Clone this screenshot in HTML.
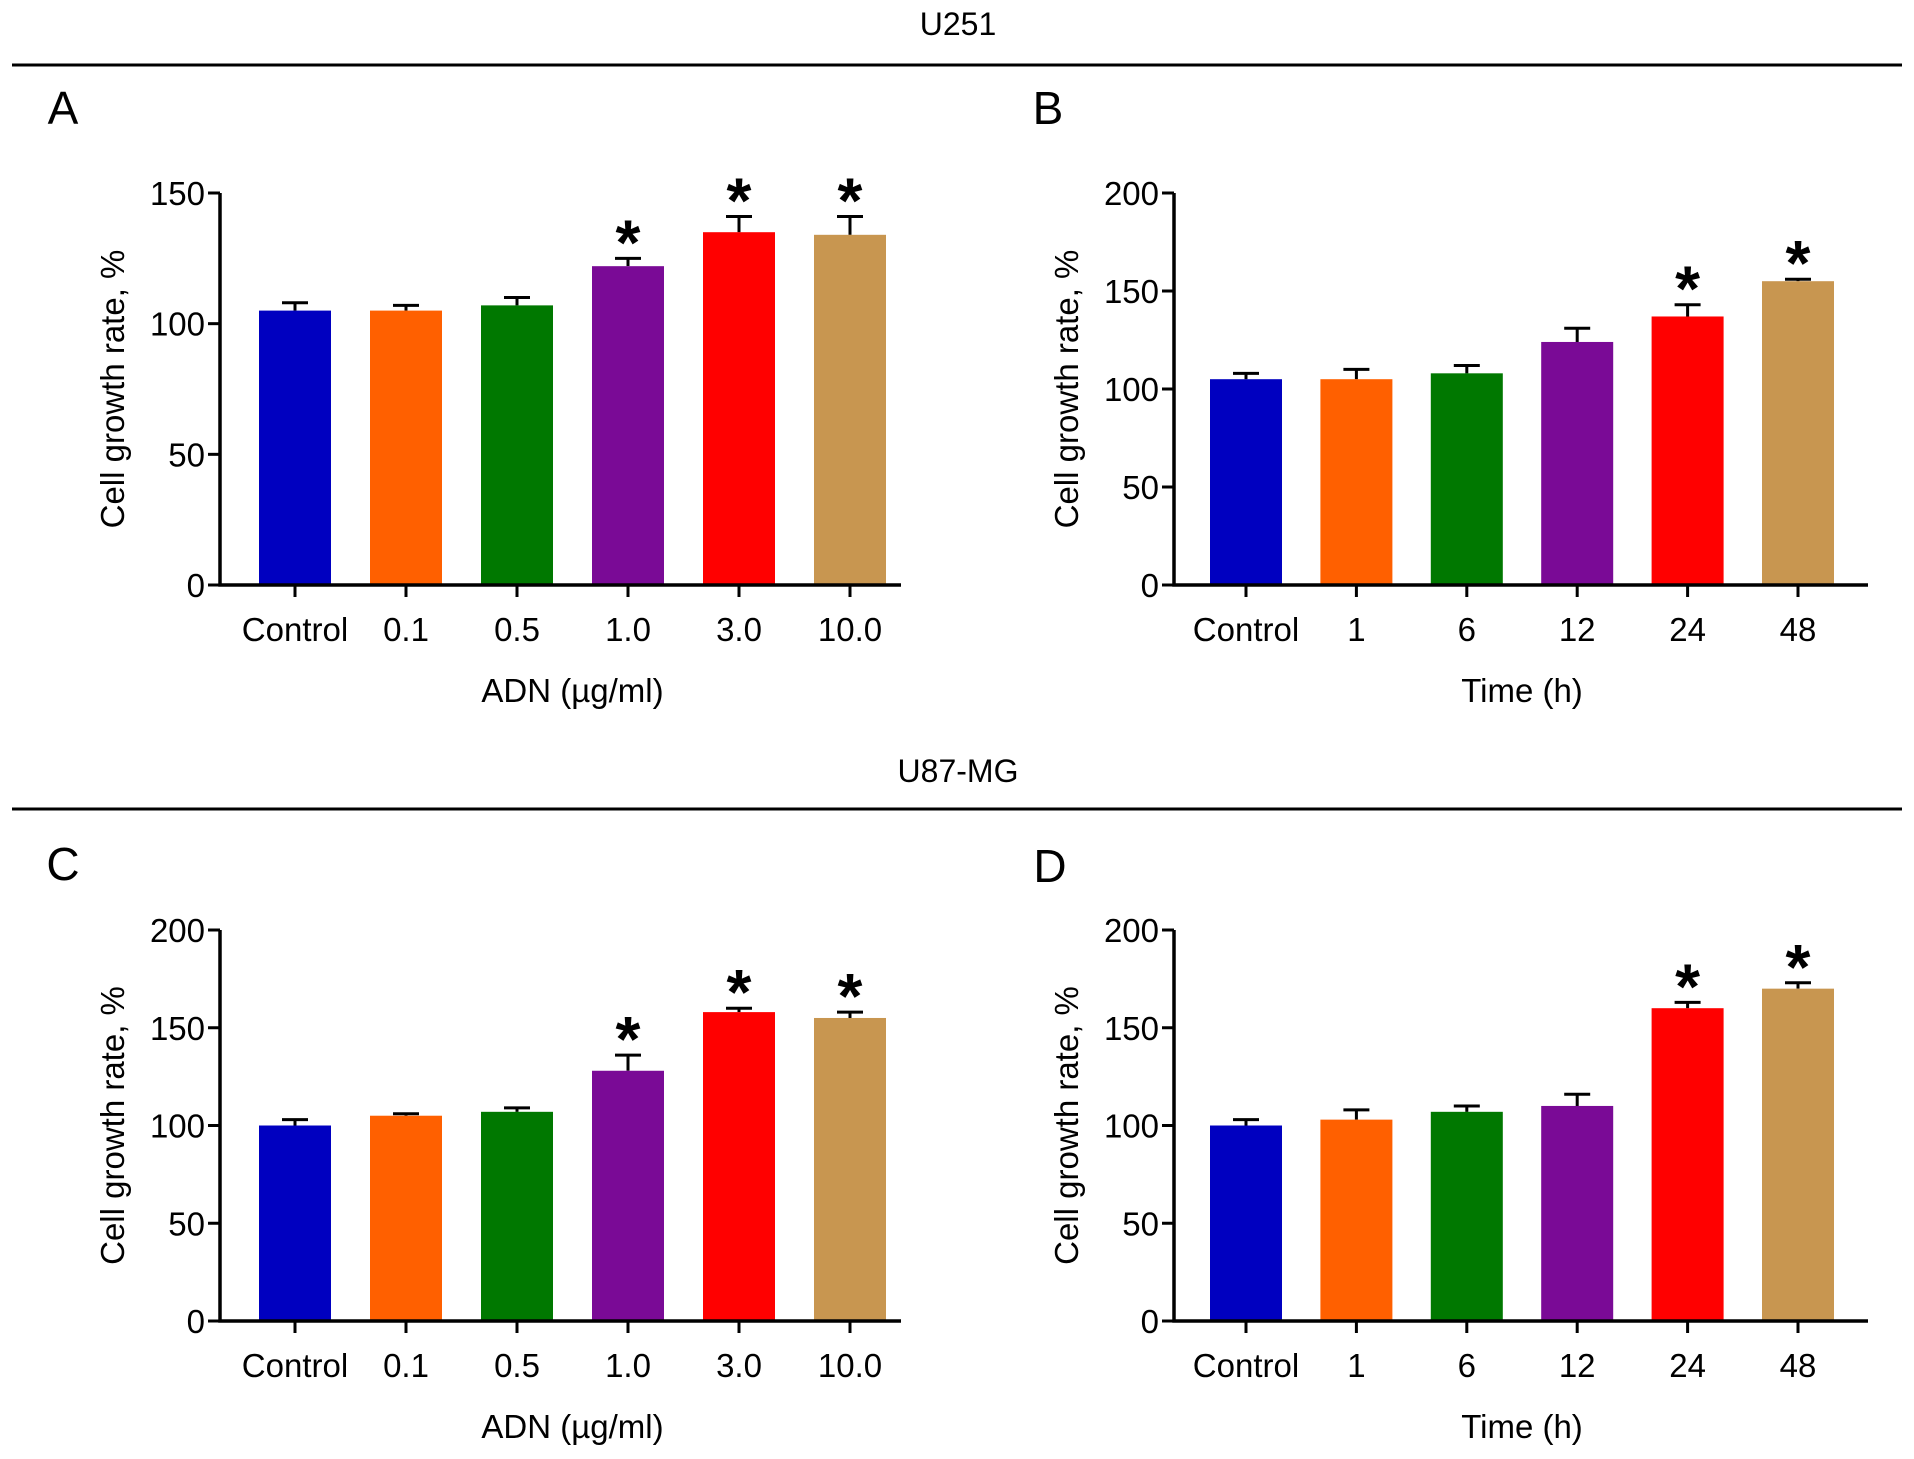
<!DOCTYPE html>
<html><head><meta charset="utf-8">
<style>
html,body{margin:0;padding:0;background:#fff;}
svg{display:block;font-family:"Liberation Sans",Arial,sans-serif;}
</style></head>
<body>
<svg id="fig" width="1914" height="1459" viewBox="0 0 1914 1459" xmlns="http://www.w3.org/2000/svg">
<text x="958" y="35" font-size="32" text-anchor="middle">U251</text>
<line x1="12" y1="65" x2="1902" y2="65" stroke="#000" stroke-width="3"/>
<text x="958" y="782" font-size="32" text-anchor="middle">U87-MG</text>
<line x1="12" y1="809" x2="1902" y2="809" stroke="#000" stroke-width="3"/>
</svg>
<script>
const colors = ['#0000c0','#ff6000','#007800','#7a0a96','#ff0000','#c89650'];
const catsDose = ['Control','0.1','0.5','1.0','3.0','10.0'];
const catsTime = ['Control','1','6','12','24','48'];
const valsA = [105,105,107,122,135,134];
const errA = [3,2,3,3,6,7];
const starA = [0,0,0,1,1,1];
const valsB = [105,105,108,124,137,155];
const errB = [3,5,4,7,6,1];
const starB = [0,0,0,0,1,1];
const valsC = [100,105,107,128,158,155];
const errC = [3,1,2,8,2,3];
const starC = [0,0,0,1,1,1];
const valsD = [100,103,107,110,160,170];
const errD = [3,5,3,6,3,3];
const starD = [0,0,0,0,1,1];
const ticksA = [0,50,100,150];
const ticks200 = [0,50,100,150,200];

const NS='http://www.w3.org/2000/svg';
const svg=document.getElementById('fig');
function mk(tag,attrs,parent){const e=document.createElementNS(NS,tag);for(const k in attrs)e.setAttribute(k,attrs[k]);(parent||svg).appendChild(e);return e;}

function panel(id,letter,lx,ly,ax,top,zero,right,x0,step,cats,vals,errs,stars,ticks,ymax,xtitle){
  const g=mk('g',{});
  
  
  const y=v=>zero-(v/ymax)*(zero-top);
  const x=i=>x0+i*step;
  const L=mk('text',{x:lx,y:ly,'font-size':46,'text-anchor':'middle'},g);L.textContent=letter;
  
  
  const bw=72;
  vals.forEach((v,i)=>{
    const e=errs[i];
    const eb=mk('path',{d:`M${x(i)} ${y(v)}V${y(v+e)}M${x(i)-13} ${y(v+e)}H${x(i)+13}`,stroke:'#000','stroke-width':3,fill:'none'},g);
    
    
    const r=mk('rect',{x:x(i)-bw/2,y:y(v),width:bw,height:zero-y(v),fill:colors[i]},g);
    
    
    if(stars[i]){
      const s=mk('text',{x:x(i),y:y(v+e)+6,'font-size':64,'font-weight':'bold','text-anchor':'middle'},g);s.textContent='*';
      
      
    }
    const tk=mk('line',{x1:x(i),y1:zero,x2:x(i),y2:zero+12,stroke:'#000','stroke-width':3},g);
    
    
    const t=mk('text',{x:x(i),y:zero+56,'font-size':33,'text-anchor':'middle'},g);t.textContent=cats[i];
    
    
  });
  const axes=mk('path',{d:`M${ax} ${top}V${zero}H${right}`,stroke:'#000','stroke-width':3.5,fill:'none'},g);
  
  
  ticks.forEach(t=>{
    const l=mk('line',{x1:ax-12,y1:y(t),x2:ax,y2:y(t),stroke:'#000','stroke-width':3},g);
    
    
    const tx=mk('text',{x:ax-15,y:y(t)+12,'font-size':33,'text-anchor':'end'},g);tx.textContent=t;
    
    
  });
  const yt=mk('text',{x:0,y:0,'font-size':33,'text-anchor':'middle',transform:`translate(${ax-96},${(top+zero)/2}) rotate(-90)`},g);yt.textContent='Cell growth rate, %';
  
  
  const xt=mk('text',{x:(x(0)+x(5))/2,y:zero+117,'font-size':33,'text-anchor':'middle'},g);xt.textContent=xtitle;
  
  
}
panel('a','A',63,124,220,193,585,901,295,111,catsDose,valsA,errA,starA,ticksA,150,'ADN (µg/ml)');
panel('b','B',1048,124,1174,193,585,1868,1246,110.4,catsTime,valsB,errB,starB,ticks200,200,'Time (h)');
panel('c','C',63,880,220,930,1321,901,295,111,catsDose,valsC,errC,starC,ticks200,200,'ADN (µg/ml)');
panel('d','D',1050,882,1174,930,1321,1868,1246,110.4,catsTime,valsD,errD,starD,ticks200,200,'Time (h)');
</script>
</body></html>
